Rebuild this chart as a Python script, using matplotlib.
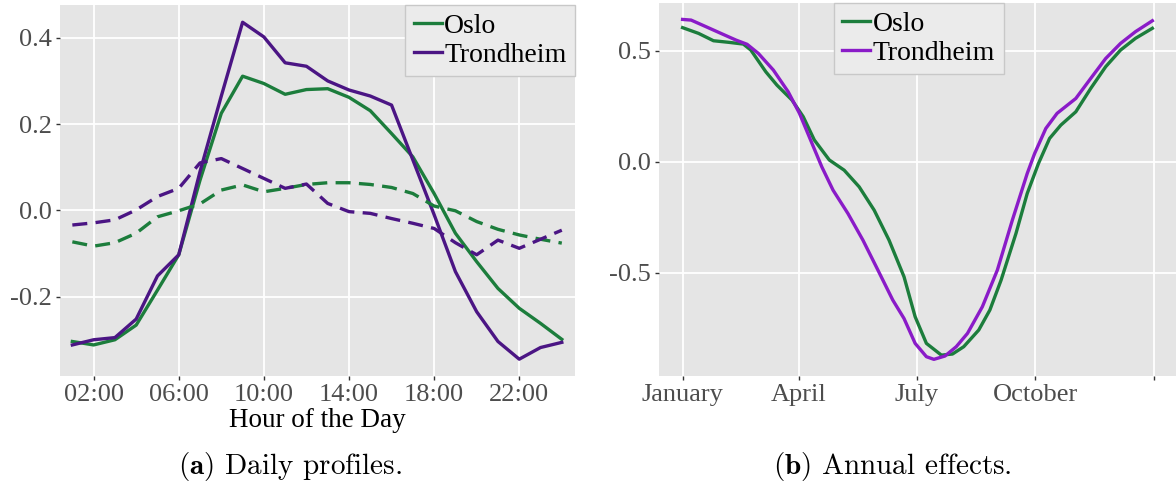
import numpy as np
import matplotlib
matplotlib.use("Agg")
import matplotlib.pyplot as plt

# --- daily profiles (hour 1..24) ---
hours = list(range(1, 25))
oslo_day = [-0.304, -0.312, -0.300, -0.266, -0.185, -0.103, 0.070, 0.225, 0.311, 0.294, 0.269, 0.280,
            0.282, 0.262, 0.231, 0.178, 0.124, 0.039, -0.053, -0.119, -0.181, -0.227, -0.262, -0.299]
trond_day = [-0.312, -0.300, -0.295, -0.252, -0.152, -0.103, 0.090, 0.265, 0.436, 0.402, 0.342, 0.334,
             0.300, 0.279, 0.265, 0.244, 0.117, -0.010, -0.142, -0.235, -0.304, -0.345, -0.318, -0.306]
oslo_day2 = [-0.073, -0.083, -0.075, -0.053, -0.015, -0.001, 0.015, 0.047, 0.059, 0.043, 0.051, 0.060,
             0.064, 0.064, 0.060, 0.053, 0.039, 0.010, -0.001, -0.026, -0.044, -0.057, -0.067, -0.076]
trond_day2 = [-0.034, -0.029, -0.022, 0.001, 0.032, 0.051, 0.110, 0.120, 0.097, 0.074, 0.051, 0.061,
              0.016, -0.003, -0.007, -0.019, -0.030, -0.042, -0.075, -0.103, -0.069, -0.088, -0.067, -0.046]
hour_ticks = [2, 6, 10, 14, 18, 22]
hour_labels = ["02:00", "06:00", "10:00", "14:00", "18:00", "22:00"]

# --- annual effects (day of year) ---
oslo_doy = [0, 12.4, 23.9, 35.5, 47.0, 52.8, 64.4, 73.0, 84.6, 93.3, 101.9, 113.5, 125.0, 136.6, 148.2,
            159.7, 171.3, 179.9, 188.6, 200.2, 208.8, 217.5, 229.1, 237.7, 246.4, 257.9, 266.6, 275.3,
            283.9, 292.6, 304.2, 315.7, 327.3, 338.8, 350.4, 363.4]
oslo_year = [0.604, 0.578, 0.545, 0.538, 0.530, 0.503, 0.405, 0.345, 0.278, 0.203, 0.098, 0.008, -0.038,
             -0.113, -0.218, -0.353, -0.518, -0.698, -0.818, -0.871, -0.866, -0.833, -0.758, -0.668,
             -0.533, -0.323, -0.143, -0.008, 0.105, 0.165, 0.225, 0.330, 0.428, 0.503, 0.556, 0.601]
trond_doy = [0, 6.6, 18.2, 29.7, 41.3, 49.9, 58.6, 70.2, 81.7, 90.4, 99.0, 107.7, 116.4, 127.9, 139.5,
             151.1, 162.6, 171.3, 179.9, 188.6, 194.4, 203.0, 211.7, 220.4, 231.9, 243.5, 255.1, 266.6,
             272.4, 281.0, 289.7, 304.2, 315.7, 327.3, 338.8, 350.4, 363.4]
trond_year = [0.641, 0.638, 0.608, 0.578, 0.548, 0.529, 0.488, 0.413, 0.315, 0.218, 0.098, -0.023, -0.128,
              -0.233, -0.353, -0.488, -0.623, -0.706, -0.818, -0.878, -0.890, -0.875, -0.833, -0.773,
              -0.653, -0.488, -0.263, -0.053, 0.038, 0.150, 0.218, 0.285, 0.375, 0.465, 0.533, 0.586, 0.635]
month_ticks = [0, 90, 181, 273, 365]
month_labels = ["January", "April", "July", "October", ""]

GREEN = "#1c7d3c"
PURPLE_DARK = "#4b1584"
PURPLE = "#8a1bc8"
BG = "#e5e5e5"
SERIF = "Liberation Serif"

plt.rcParams["mathtext.fontset"] = "cm"

fig = plt.figure(figsize=(11.76, 4.9), dpi=100)
ax1 = fig.add_axes([60 / 1176, 1 - 376 / 490, 515 / 1176, 371 / 490])
ax2 = fig.add_axes([659 / 1176, 1 - 376 / 490, 519 / 1176, 373 / 490])


def gg_style(ax):
    ax.set_facecolor(BG)
    for s in ax.spines.values():
        s.set_visible(False)
    ax.grid(True, color="white", linewidth=1.3)
    ax.set_axisbelow(True)
    ax.tick_params(length=3, width=1, color="#333333", labelcolor="#4d4d4d",
                   labelsize=19, pad=3)
    for lab in ax.get_xticklabels() + ax.get_yticklabels():
        lab.set_family(SERIF)


lw = 2.4
ax1.plot(hours, oslo_day, color=GREEN, lw=lw, label="Oslo")
ax1.plot(hours, trond_day, color=PURPLE_DARK, lw=lw, label="Trondheim")
ax1.plot(hours, oslo_day2, color=GREEN, lw=lw, ls=(0, (4.5, 2.5)))
ax1.plot(hours, trond_day2, color=PURPLE_DARK, lw=lw, ls=(0, (4.5, 2.5)))
ax1.set_xlim(0.42, 24.62)
ax1.set_ylim(-0.384, 0.476)
ax1.set_xticks(hour_ticks)
ax1.set_xticklabels(hour_labels)
ax1.set_yticks([-0.2, 0.0, 0.2, 0.4])
ax1.set_yticklabels(["-0.2", "0.0", "0.2", "0.4"])
gg_style(ax1)
ax1.set_xlabel("Hour of the Day", fontsize=19.5, family=SERIF, labelpad=1)

ax2.plot(oslo_doy, oslo_year, color=GREEN, lw=lw, label="Oslo")
ax2.plot(trond_doy, trond_year, color=PURPLE, lw=lw, label="Trondheim")
ax2.set_xlim(-18.25, 383.25)
ax2.set_ylim(-0.965, 0.715)
ax2.set_xticks(month_ticks)
ax2.set_xticklabels(month_labels)
ax2.set_yticks([-0.5, 0.0, 0.5])
ax2.set_yticklabels(["-0.5", "0.0", "0.5"])
gg_style(ax2)

leg_kw = dict(prop={"family": SERIF, "size": 20}, fancybox=False, framealpha=1,
              facecolor="#ebebeb", edgecolor="#c8c8c8", handlelength=1.0,
              handletextpad=0.1, borderpad=0.3, labelspacing=0.12)
l1 = ax1.legend(loc="upper right", bbox_to_anchor=(1.0, 1.0), borderaxespad=0, **leg_kw)
l2 = ax2.legend(loc="upper left", bbox_to_anchor=(0.337, 1.0), borderaxespad=0, **leg_kw)
for leg in (l1, l2):
    leg.get_frame().set_linewidth(1.0)

fig.text(290 / 1176, 1 - 466 / 490, r"$\mathbf{(a)}$ Daily profiles.", ha="center", va="center",
         fontsize=21, family="cmr10")
fig.text(892 / 1176, 1 - 466 / 490, r"$\mathbf{(b)}$ Annual effects.", ha="center", va="center",
         fontsize=21, family="cmr10")

fig.savefig("out.png", dpi=100)
